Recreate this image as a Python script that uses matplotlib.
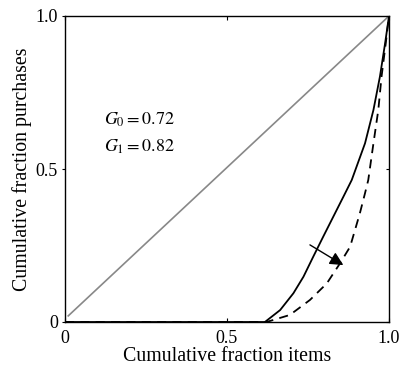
import numpy as np
import matplotlib
matplotlib.use("Agg")
from matplotlib import pyplot as plt

plt.rcParams['font.family'] = ['Liberation Serif', 'DejaVu Serif']
plt.rcParams['mathtext.fontset'] = 'stix'

# equality line
eq_x = [0.01, 1.0]
eq_y = [0.02, 1.0]

# Lorenz curve G0 (solid)
g0_x = [0.0, 0.617, 0.664, 0.705, 0.736, 0.766, 0.797, 0.828, 0.859, 0.885,
        0.926, 0.952, 0.972, 0.988, 1.0]
g0_y = [0.0, 0.0, 0.039, 0.094, 0.148, 0.213, 0.279, 0.344, 0.409, 0.464,
        0.584, 0.693, 0.802, 0.911, 1.0]

# Lorenz curve G1 (dashed)
g1_x = [0.0, 0.622, 0.694, 0.756, 0.808, 0.849, 0.880, 0.910, 0.926, 0.936,
        0.952, 0.967, 0.977, 0.990, 1.0]
g1_y = [0.0, 0.0, 0.023, 0.072, 0.126, 0.192, 0.246, 0.355, 0.421, 0.464,
        0.584, 0.693, 0.802, 0.911, 1.0]

ginis = [0.72, 0.82]

fig = plt.figure(figsize=(3.99, 3.66), dpi=100)
ax = fig.add_axes([65/399, 44/366, 324/399, 306/366])

ax.plot(eq_x, eq_y, color='#888888', lw=1.2)
ax.plot(g0_x, g0_y, color='black', lw=1.3)
ax.plot(g1_x, g1_y, color='black', lw=1.3, ls=(0, (5, 3.5)))

ax.annotate('', xy=(0.859, 0.186), xytext=(0.756, 0.252),
            arrowprops=dict(arrowstyle='-|>', color='black', lw=1.0,
                            mutation_scale=20, shrinkA=0, shrinkB=0))

ax.text(0.12, 0.66, r'$G_0 = %.2f$' % ginis[0], fontsize=13, va='center')
ax.text(0.12, 0.572, r'$G_1 = %.2f$' % ginis[1], fontsize=13, va='center')

ax.set_xlim(0, 1)
ax.set_ylim(0, 1)
ax.set_xticks([0, 0.5, 1.0])
ax.set_xticklabels(['0', '0.5', '1.0'])
ax.set_yticks([0, 0.5, 1.0])
ax.set_yticklabels(['0', '0.5', '1.0'])
ax.tick_params(axis='x', direction='in', length=3, labelsize=13, pad=6, top=True)
ax.tick_params(axis='y', direction='out', length=2, labelsize=13, pad=3)
ax.tick_params(axis='y', which='both', right=True)
for t in ax.yaxis.get_ticklines()[1::2]:
    t.set_marker(0)
ax.set_xlabel('Cumulative fraction items', fontsize=14.3, labelpad=0)
ax.set_ylabel('Cumulative fraction purchases', fontsize=14.3, labelpad=3)
for s in ax.spines.values():
    s.set_linewidth(1.0)

fig.savefig('out.png', dpi=100)
